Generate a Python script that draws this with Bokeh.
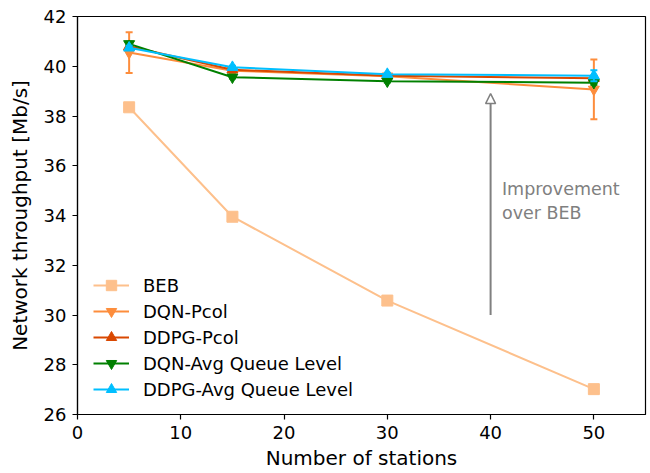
import math
from bokeh.plotting import figure
from bokeh.models import (Range1d, FixedTicker, Legend, LegendItem, ColumnDataSource,
                          Arrow, NormalHead, Label)
from bokeh.embed import file_html
from bokeh.resources import INLINE

# ---------------- data ----------------
stations = [5, 15, 30, 50]

beb = [38.35, 33.95, 30.58, 27.02]
beb_err = [0.02, 0.02, 0.02, 0.02]

dqn_pcol = [40.55, 39.82, 39.60, 39.07]
dqn_pcol_err = [0.82, 0.12, 0.10, 1.20]

ddpg_pcol = [40.80, 39.86, 39.62, 39.52]
ddpg_pcol_err = [0.08, 0.06, 0.06, 0.10]

dqn_avg = [40.90, 39.56, 39.40, 39.34]
dqn_avg_err = [0.08, 0.05, 0.05, 0.08]

ddpg_avg = [40.74, 39.96, 39.68, 39.62]
ddpg_avg_err = [0.08, 0.06, 0.06, 0.22]

series_names = ["BEB", "DQN-Pcol", "DDPG-Pcol", "DQN-Avg Queue Level", "DDPG-Avg Queue Level"]
series_vals = [beb, dqn_pcol, ddpg_pcol, dqn_avg, ddpg_avg]
series_errs = [beb_err, dqn_pcol_err, ddpg_pcol_err, dqn_avg_err, ddpg_avg_err]
series_colors = ["#fdc08c", "#fd8d3c", "#d94801", "#008000", "#00bfff"]
series_markers = ["square", "inverted_triangle", "triangle", "inverted_triangle", "triangle"]

x_ticks = [0, 10, 20, 30, 40, 50]
y_ticks = [26, 28, 30, 32, 34, 36, 38, 40, 42]

arrow_x = 40
arrow_from = 30.0
arrow_to = 38.9
note_text = "Improvement\nover BEB"
note_x = 41.1
note_y = 35.47

FONT = "DejaVu Sans"

p = figure(width=650, height=473, output_backend="svg", toolbar_location=None,
           x_range=Range1d(0, 55), y_range=Range1d(26, 42),
           min_border_left=77, min_border_right=5, min_border_top=16, min_border_bottom=59)
p.background_fill_color = "white"
p.border_fill_color = "white"
p.xgrid.visible = False
p.ygrid.visible = False
p.outline_line_color = "black"
p.outline_line_width = 1.2

for ax in (p.xaxis[0], p.yaxis[0]):
    ax.major_label_text_font = FONT
    ax.major_label_text_font_size = "18px"
    ax.major_label_text_color = "black"
    ax.axis_label_text_font = FONT
    ax.axis_label_text_font_size = "20px"
    ax.axis_label_text_font_style = "normal"
    ax.axis_label_text_color = "black"
    ax.major_tick_in = 0
    ax.major_tick_out = 5
    ax.minor_tick_in = 0
    ax.minor_tick_out = 0
    ax.major_tick_line_color = "black"
    ax.major_tick_line_width = 1.2
    ax.axis_line_color = "black"
    ax.axis_line_width = 1.2
    ax.major_label_standoff = 6

p.xaxis.ticker = FixedTicker(ticks=x_ticks)
p.yaxis.ticker = FixedTicker(ticks=y_ticks)
p.xaxis.axis_label = "Number of stations"
p.yaxis.axis_label = "Network throughput [Mb/s]"
p.xaxis.axis_label_standoff = 4
p.yaxis.axis_label_standoff = 9

items = []
for name, vals, errs, col, mk in zip(series_names, series_vals, series_errs,
                                     series_colors, series_markers):
    src = ColumnDataSource(dict(
        x=stations, y=vals,
        lo=[v - e for v, e in zip(vals, errs)],
        hi=[v + e for v, e in zip(vals, errs)],
    ))
    p.segment(x0="x", y0="lo", x1="x", y1="hi", source=src, line_color=col, line_width=2)
    p.scatter(x="x", y="lo", source=src, marker="dash", size=7, line_color=col, line_width=2)
    p.scatter(x="x", y="hi", source=src, marker="dash", size=7, line_color=col, line_width=2)
    lr = p.line(x="x", y="y", source=src, line_color=col, line_width=2)
    sr = p.scatter(x="x", y="y", source=src, marker=mk, size=11,
                   fill_color=col, line_color=col, line_width=1)
    items.append(LegendItem(label=name, renderers=[lr, sr]))

legend = Legend(items=items, location=(16, 12), padding=0, margin=0, spacing=0,
                glyph_width=36, glyph_height=26, label_height=26, label_standoff=14,
                label_text_font=FONT, label_text_font_size="18px",
                label_text_color="black",
                border_line_alpha=0, background_fill_alpha=0)
p.add_layout(legend)

arrow = Arrow(end=NormalHead(size=10, fill_color="white", line_color="#808080", line_width=1.5),
              x_start=arrow_x, y_start=arrow_from, x_end=arrow_x, y_end=arrow_to,
              line_color="#808080", line_width=2)
p.add_layout(arrow)

note = Label(x=note_x, y=note_y, text=note_text, text_font=FONT, text_font_size="17.5px",
             text_color="#808080", text_baseline="top", text_align="left")
p.add_layout(note)

open("out.html", "w").write(file_html(p, INLINE))
